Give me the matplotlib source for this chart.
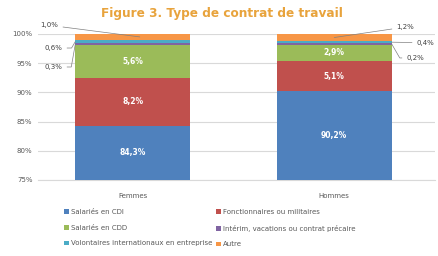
import numpy as np
import matplotlib
matplotlib.use("Agg")
from matplotlib import pyplot as plt

# data
groups = ["Femmes", "Hommes"]
series = ["Salariés en CDI", "Fonctionnaires ou militaires", "Salariés en CDD",
          "Intérim, vacations ou contrat précaire",
          "Volontaires internationaux en entreprise", "Autre"]
femmes = [84.3, 8.2, 5.6, 0.3, 0.6, 1.0]
hommes = [90.2, 5.1, 2.9, 0.2, 0.4, 1.2]
colors = ["#4F81BD", "#C0504D", "#9BBB59", "#8064A2", "#4BACC6", "#F79646"]

values = np.array([femmes, hommes]).T  # series x groups
ymin = 75

fig = plt.figure(figsize=(4.39, 2.56), dpi=100)
ax = fig.add_axes([38 / 439, 1 - 180 / 256, 397 / 439, 146 / 256])

x = np.arange(len(groups))
width = 0.57
bottom = np.zeros(len(groups))
handles = []
for i, name in enumerate(series):
    b = ax.bar(x, values[i], width, bottom=bottom, color=colors[i], label=name,
               zorder=3, edgecolor="none")
    handles.append(b)
    # inside labels for the big segments, centred on the visible part
    for j in range(len(groups)):
        v = values[i][j]
        if v >= 2:
            mid = (max(bottom[j], ymin) + bottom[j] + v) / 2
            ax.text(x[j], mid, f"{v:.1f}%".replace(".", ","), ha="center",
                    va="center", color="white", fontsize=5.5, fontweight="bold",
                    zorder=4)
    bottom += values[i]

ax.set_ylim(ymin, 100)
ax.set_xlim(-0.47, 1.5)
ax.set_yticks(np.arange(75, 101, 5))
ax.set_yticklabels([f"{t}%" for t in range(75, 101, 5)])
ax.set_xticks(x)
ax.set_xticklabels(groups)
ax.grid(axis="y", color="#D9D9D9", linewidth=0.8, zorder=0)
for s in ["top", "right", "left"]:
    ax.spines[s].set_visible(False)
ax.spines["bottom"].set_color("#D9D9D9")
ax.tick_params(length=0, labelsize=5, labelcolor="#595959")
ax.tick_params(axis="x", pad=9)
ax.tick_params(axis="y", pad=4)

# small segments labelled outside with leader lines
def outside(j, i, text_xy, ha, anchor_x, conn="arc3"):
    v = values[i][j]
    top = values[:i + 1, j].sum()
    y = top - v / 2
    ax.annotate(f"{v:.1f}%".replace(".", ","), xy=(anchor_x, y),
                xytext=text_xy, textcoords="data", ha=ha, va="center",
                fontsize=5, color="#404040", annotation_clip=False,
                arrowprops=dict(arrowstyle="-", color="#808080", lw=0.5,
                                shrinkA=1.5, shrinkB=0, connectionstyle=conn))

outside(0, 5, (-0.37, 101.5), "right", 0.035)
outside(0, 4, (-0.35, 97.6), "right", -width / 2,
        "angle,angleA=0,angleB=60,rad=0")
outside(0, 3, (-0.35, 94.35), "right", -width / 2,
        "angle,angleA=0,angleB=80,rad=0")
outside(1, 5, (1.31, 101.2), "left", 1.0)
outside(1, 4, (1.41, 98.5), "left", 1 + width / 2)
outside(1, 3, (1.36, 95.9), "left", 1 + width / 2,
        "angle,angleA=180,angleB=-60,rad=0")

fig.text(222 / 439, 1 - 14 / 256, "Figure 3. Type de contrat de travail",
         ha="center", va="center", fontsize=8.7, fontweight="bold",
         color="#E8A33C")

order = [0, 2, 4, 1, 3, 5]
fig.legend([handles[k] for k in order], [series[k] for k in order],
           loc="upper left", bbox_to_anchor=(64 / 439, 1 - 209 / 256), ncol=2,
           frameon=False, fontsize=5, labelcolor="#595959",
           handlelength=0.7, handleheight=0.7, handletextpad=0.3,
           columnspacing=0.5, labelspacing=1.4, borderpad=0, borderaxespad=0)

fig.savefig("out.png", dpi=100)
